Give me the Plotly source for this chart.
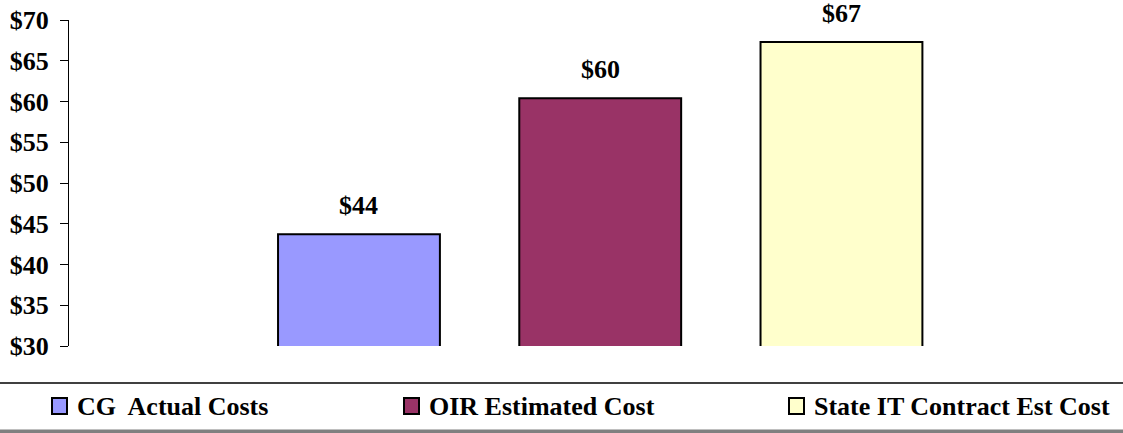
import plotly.graph_objects as go

# Cost per unit for each estimate
series = ["CG  Actual Costs", "OIR Estimated Cost", "State IT Contract Est Cost"]
costs = [43.7, 60.4, 67.3]
colors = ["#9999FF", "#993366", "#FFFFCC"]
y_ticks = [30, 35, 40, 45, 50, 55, 60, 65, 70]
y_tick_labels = [f"${v}" for v in y_ticks]

W, H = 1123, 433
M_L, M_R, M_T, M_B = 69, 0, 20, 87
PLOT_W = W - M_L - M_R
PLOT_H = H - M_T - M_B

FONT = "Liberation Serif, Times New Roman, serif"


def px_x(px):
    return (px - M_L) / PLOT_W


def px_y(py):
    return (H - M_B - py) / PLOT_H


fig = go.Figure()

for name, val, col in zip(series, costs, colors):
    fig.add_trace(go.Bar(
        x=[name], y=[val], base=0, width=0.671,
        marker=dict(color=col, line=dict(color="black", width=2)),
        showlegend=False, hoverinfo="skip",
    ))
    fig.add_annotation(
        x=name, y=val, xref="x", yref="y",
        text=f"${val:.0f}", showarrow=False, yanchor="bottom", yshift=12,
        font=dict(family=FONT, size=26, color="black", weight="bold"),
    )

# Legend band: rule above, grey rule below, swatches with labels
shapes = [
    dict(type="line", xref="paper", yref="paper",
         x0=px_x(0), x1=px_x(W), y0=px_y(383), y1=px_y(383),
         line=dict(color="black", width=1.5)),
    dict(type="line", xref="paper", yref="paper",
         x0=px_x(0), x1=px_x(W), y0=px_y(431.5), y1=px_y(431.5),
         line=dict(color="#808080", width=4)),
]
swatch_left = [51, 403, 788]
for left, col, name in zip(swatch_left, colors, series):
    shapes.append(dict(
        type="rect", xref="paper", yref="paper",
        x0=px_x(left + 1), x1=px_x(left + 16), y0=px_y(414), y1=px_y(398),
        fillcolor=col, line=dict(color="black", width=2),
    ))
    fig.add_annotation(
        x=px_x(left + 24), y=px_y(406), xref="paper", yref="paper",
        text=name.replace("  ", "&nbsp; "), showarrow=False,
        xanchor="left", yanchor="middle",
        font=dict(family=FONT, size=26, color="black", weight="bold"),
    )

fig.update_layout(
    width=W, height=H,
    margin=dict(l=M_L, r=M_R, t=M_T, b=M_B),
    paper_bgcolor="white", plot_bgcolor="white",
    shapes=shapes,
    xaxis=dict(type="category", categoryorder="array", categoryarray=series,
               range=[-1.202, 3.167], showticklabels=False, ticks="",
               showline=False, showgrid=False, zeroline=False),
    yaxis=dict(range=[30, 70], tickmode="array", tickvals=y_ticks,
               ticktext=y_tick_labels, ticklabelstandoff=6,
               ticks="outside", ticklen=8, tickwidth=1, tickcolor="black",
               showline=True, linecolor="black", linewidth=1,
               showgrid=False, zeroline=False,
               tickfont=dict(family=FONT, size=26, color="black", weight="bold")),
)

fig.write_html("out.html")
